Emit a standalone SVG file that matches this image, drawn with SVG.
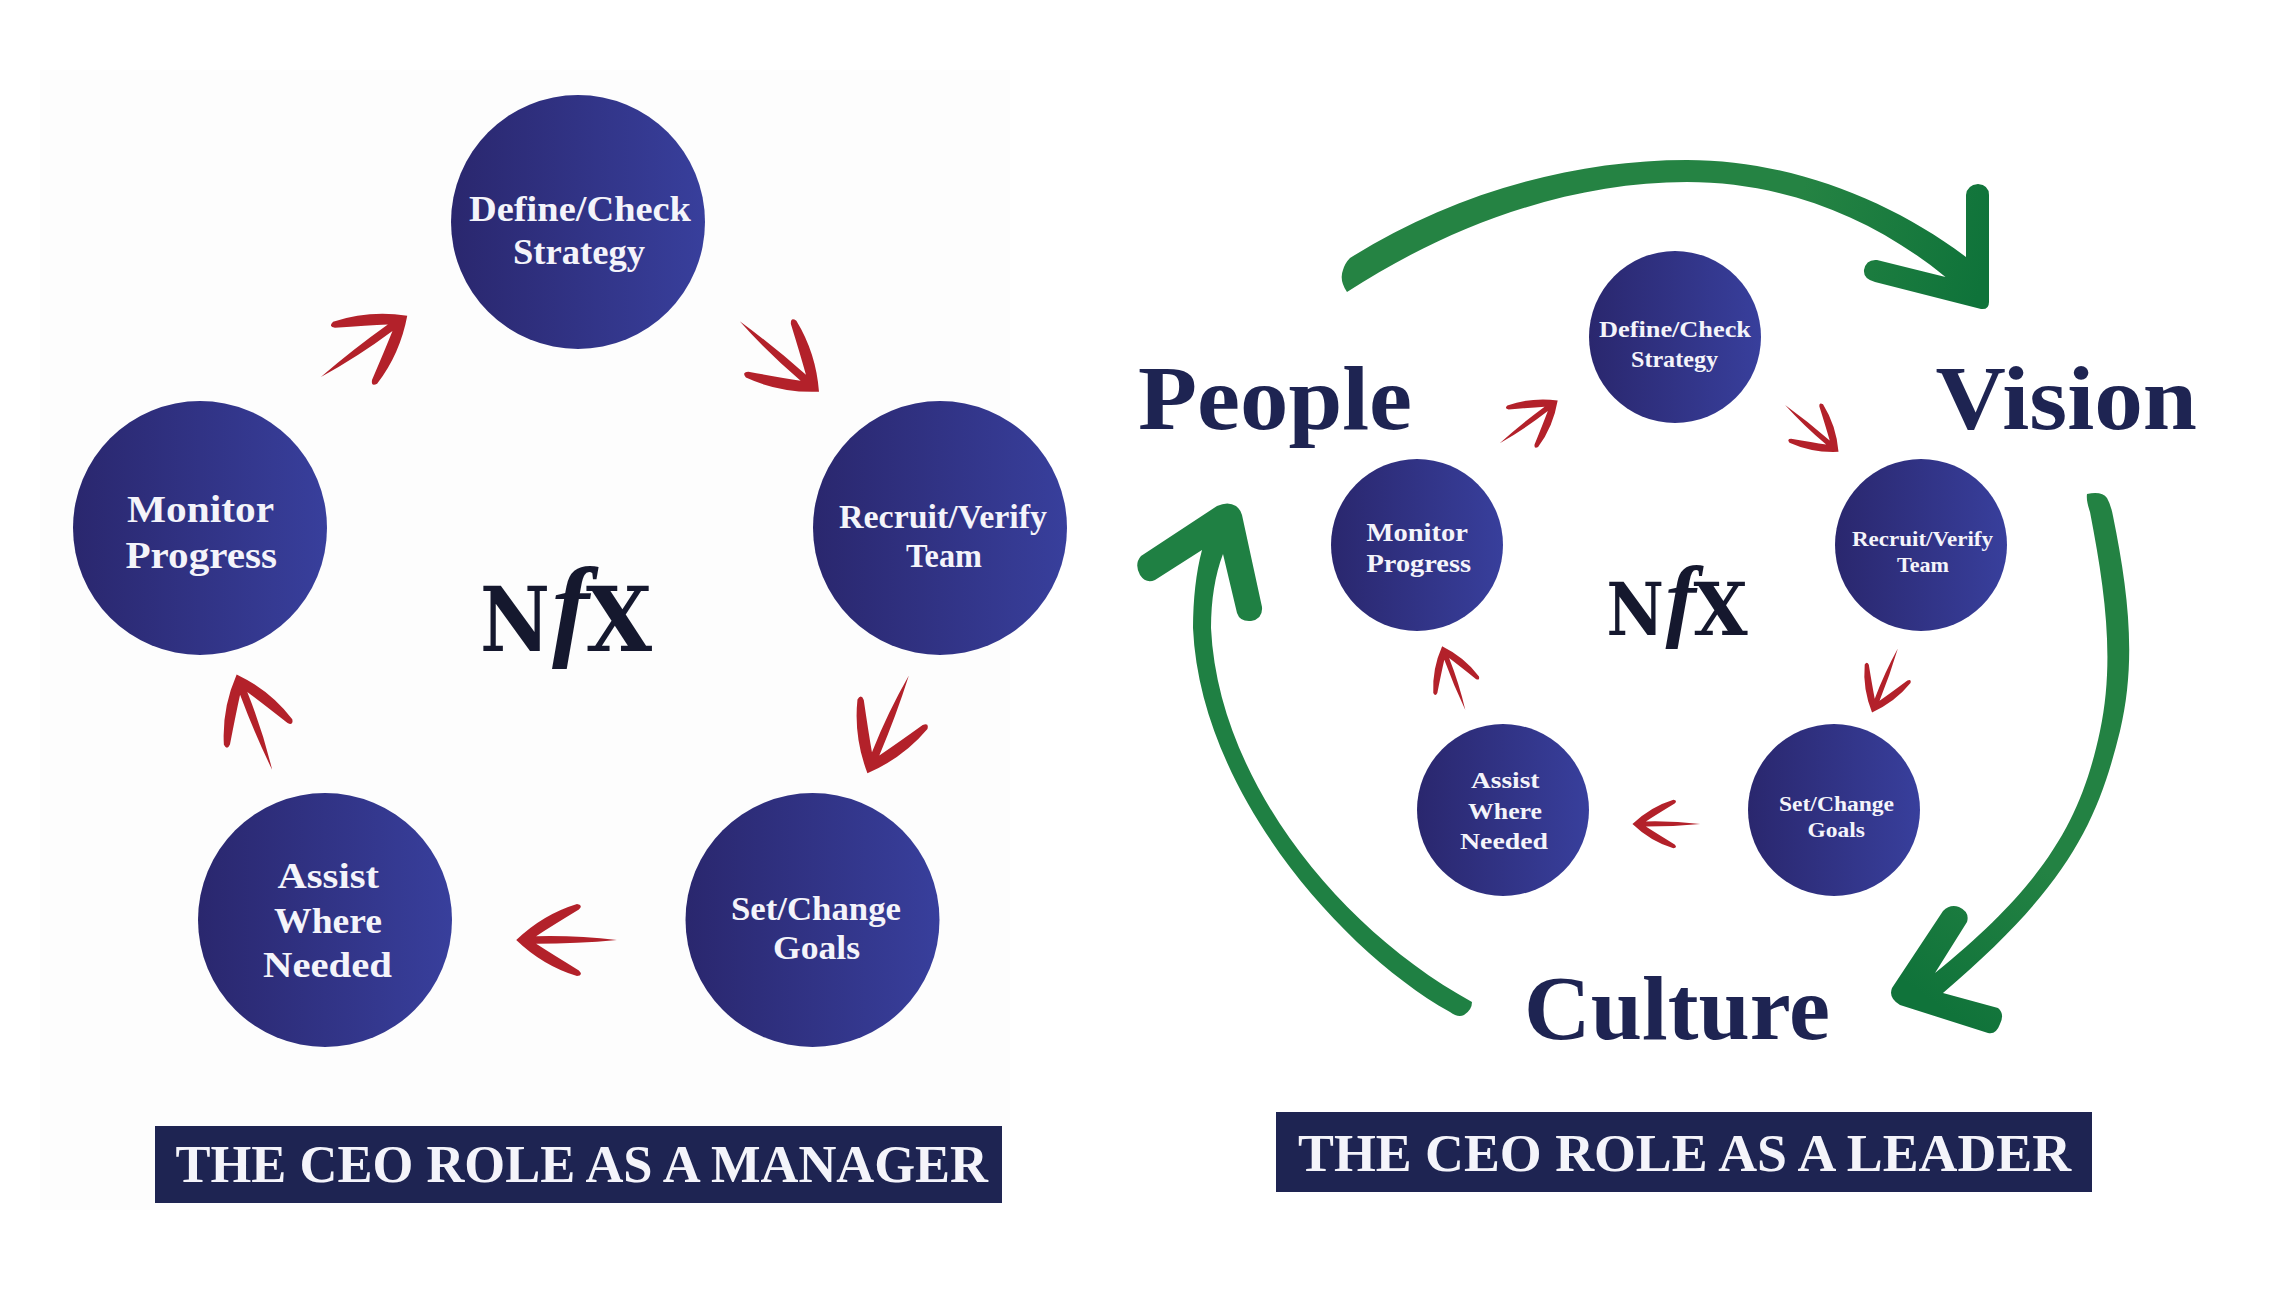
<svg xmlns="http://www.w3.org/2000/svg" xmlns:xlink="http://www.w3.org/1999/xlink" width="2288" height="1296" viewBox="0 0 2288 1296">
<style>
.t{font-family:"Liberation Serif","Times New Roman",serif;font-weight:700;fill:#f4f4fa}
.big{font-family:"Liberation Serif","Times New Roman",serif;font-weight:700;fill:#1e2452;font-size:90px}
.ban{fill:#1e2452}
.logo{font-family:"DejaVu Serif",serif;font-weight:700;fill:#15182e;font-size:89px}
.logof{font-family:"Liberation Serif",serif;font-style:italic;font-weight:700;fill:#15182e;font-size:112px}
.red{fill:#b3212a}
</style>
<defs>
<linearGradient id="g" x1="0" y1="0" x2="1" y2="0"><stop offset="0" stop-color="#2a276e"/><stop offset="1" stop-color="#383f9c"/></linearGradient>
<linearGradient id="g1" gradientUnits="userSpaceOnUse" x1="1800" y1="200" x2="1990" y2="250"><stop offset="0" stop-color="#258343"/><stop offset="1" stop-color="#0f733a"/></linearGradient>
<linearGradient id="g2" gradientUnits="userSpaceOnUse" x1="2030" y1="860" x2="1930" y2="1000"><stop offset="0" stop-color="#238243"/><stop offset="1" stop-color="#10733a"/></linearGradient>
<path id="ra" d="M4,0 Q-24,-27 -60,-38 Q-67,-37 -62,-32 Q-34,-15 -17,-4 Q-60,-4 -102,0 Q-60,5 -17,4 Q-34,15 -62,32 Q-67,37 -60,38 Q-24,27 4,0 Z"/>
<g id="nfx">
<text class="logo" x="480" y="651" textLength="70" lengthAdjust="spacingAndGlyphs">N</text>
<text class="logof" x="552" y="645">f</text>
<text class="logo" x="586" y="651" textLength="66" lengthAdjust="spacingAndGlyphs">X</text>
</g>
</defs>
<rect width="2288" height="1296" fill="#ffffff"/>
<rect x="40" y="70" width="970" height="1140" fill="#fdfdfd"/>

<g id="connectors">
<g class="red">
<use href="#ra" transform="translate(404,318) rotate(-35.4)"/>
<use href="#ra" transform="translate(816,389) rotate(41.6)"/>
<use href="#ra" transform="translate(869,769.5) rotate(113)"/>
<use href="#ra" transform="translate(520,940) rotate(180) scale(.95)"/>
<use href="#ra" transform="translate(238,678) rotate(-110.4) scale(.96)"/>
<use href="#ra" transform="translate(1555.5,402) rotate(-36.5) scale(.68)"/>
<use href="#ra" transform="translate(1836.5,450) rotate(41.2) scale(.67)"/>
<use href="#ra" transform="translate(1873,710) rotate(112) scale(.65)"/>
<use href="#ra" transform="translate(1635,824) rotate(180) scale(.64)"/>
<use href="#ra" transform="translate(1443,648.7) rotate(-110) scale(.64)"/>
</g>
<path id="arrow-people-vision" fill="url(#g1)" d="M1347,292 Q1339,280 1343,270 Q1345,263 1350,258 C1450,195 1570,160 1687,160 C1790,160 1890,200 1966,257 L1966,195 Q1967,185 1978,184 Q1989,185 1989,195 L1989,302 Q1989,310 1981,309 L1875,282 Q1863,279 1864,270 Q1866,259 1877,260 L1945.5,277 C1870,215 1780,182 1687,182 C1570,182 1450,225 1347,292 Z"/>
<path id="arrow-vision-culture" fill="url(#g2)" d="M2087,494 Q2102,491 2107,498 Q2111,505 2113,516 C2128,590 2137,660 2120,731 C2098,820 2070,885 1943,993 L1998,1008 Q2005,1014 2000,1024 Q1996,1035 1988,1033 L1900,1005 Q1888,998 1892,988 L1943,911 Q1950,904 1959,907 Q1970,912 1967,922 L1935,973 C2050,880 2082,815 2100,731 C2115,660 2105,590 2090,512 Q2086,500 2087,494 Z"/>
<path id="arrow-culture-people" fill="#1f8043" d="M1472,1002 Q1472,1010 1464,1015 Q1458,1018 1450,1012 C1340,950 1200,790 1193,628 C1193,600 1196,572 1202,550 L1155,580 Q1146,584 1140,575 Q1134,564 1141,556 L1217,506 Q1228,501 1236,506 Q1241,510 1242,515 L1262,607 Q1263,619 1251,621 Q1240,622 1237,613 L1223,554 C1215,575 1211,600 1211,628 C1218,780 1340,930 1472,1002 Z"/>
</g>

<g id="node-define-l"><circle cx="578" cy="222" r="127" fill="url(#g)"/>
<text class="t" font-size="35" x="469" y="221" textLength="222" lengthAdjust="spacingAndGlyphs">Define/Check</text>
<text class="t" font-size="35" x="513" y="264" textLength="132" lengthAdjust="spacingAndGlyphs">Strategy</text></g>
<g id="node-recruit-l"><circle cx="940" cy="528" r="127" fill="url(#g)"/>
<text class="t" font-size="33" x="839" y="528" textLength="208" lengthAdjust="spacingAndGlyphs">Recruit/Verify</text>
<text class="t" font-size="33" x="906" y="567" textLength="76" lengthAdjust="spacingAndGlyphs">Team</text></g>
<g id="node-set-l"><circle cx="812.5" cy="920" r="127" fill="url(#g)"/>
<text class="t" font-size="33" x="731" y="920" textLength="170" lengthAdjust="spacingAndGlyphs">Set/Change</text>
<text class="t" font-size="33" x="773" y="958.5" textLength="87" lengthAdjust="spacingAndGlyphs">Goals</text></g>
<g id="node-assist-l"><circle cx="325" cy="920" r="127" fill="url(#g)"/>
<text class="t" font-size="35" x="277.5" y="888" textLength="101.5" lengthAdjust="spacingAndGlyphs">Assist</text>
<text class="t" font-size="35" x="274" y="933" textLength="108" lengthAdjust="spacingAndGlyphs">Where</text>
<text class="t" font-size="35" x="263" y="976.5" textLength="129" lengthAdjust="spacingAndGlyphs">Needed</text></g>
<g id="node-monitor-l"><circle cx="200" cy="528" r="127" fill="url(#g)"/>
<text class="t" font-size="38" x="127" y="521.5" textLength="147" lengthAdjust="spacingAndGlyphs">Monitor</text>
<text class="t" font-size="38" x="125.5" y="568" textLength="151.5" lengthAdjust="spacingAndGlyphs">Progress</text></g>
<g id="logo-l"><use href="#nfx"/></g>
<g id="banner-l"><rect class="ban" x="155" y="1126" width="847" height="77"/>
<text class="t" font-size="52" x="175.5" y="1182" textLength="812.5" lengthAdjust="spacingAndGlyphs">THE CEO ROLE AS A MANAGER</text></g>

<g id="node-define-r"><circle cx="1675" cy="337" r="86" fill="url(#g)"/>
<text class="t" font-size="24" x="1599" y="337" textLength="152" lengthAdjust="spacingAndGlyphs">Define/Check</text>
<text class="t" font-size="24" x="1631" y="366.5" textLength="87" lengthAdjust="spacingAndGlyphs">Strategy</text></g>
<g id="node-recruit-r"><circle cx="1921" cy="545" r="86" fill="url(#g)"/>
<text class="t" font-size="22" x="1852" y="546" textLength="141" lengthAdjust="spacingAndGlyphs">Recruit/Verify</text>
<text class="t" font-size="22" x="1897" y="572" textLength="52" lengthAdjust="spacingAndGlyphs">Team</text></g>
<g id="node-set-r"><circle cx="1834" cy="810" r="86" fill="url(#g)"/>
<text class="t" font-size="22" x="1779" y="811" textLength="115" lengthAdjust="spacingAndGlyphs">Set/Change</text>
<text class="t" font-size="22" x="1807.5" y="837" textLength="57.5" lengthAdjust="spacingAndGlyphs">Goals</text></g>
<g id="node-assist-r"><circle cx="1503" cy="810" r="86" fill="url(#g)"/>
<text class="t" font-size="24" x="1471" y="788" textLength="68.5" lengthAdjust="spacingAndGlyphs">Assist</text>
<text class="t" font-size="24" x="1468" y="819" textLength="74" lengthAdjust="spacingAndGlyphs">Where</text>
<text class="t" font-size="24" x="1460" y="849" textLength="88" lengthAdjust="spacingAndGlyphs">Needed</text></g>
<g id="node-monitor-r"><circle cx="1417" cy="545" r="86" fill="url(#g)"/>
<text class="t" font-size="25" x="1366.5" y="541" textLength="101.5" lengthAdjust="spacingAndGlyphs">Monitor</text>
<text class="t" font-size="25" x="1366.5" y="572" textLength="104.5" lengthAdjust="spacingAndGlyphs">Progress</text></g>
<g id="logo-r"><use href="#nfx" transform="translate(1606.5,635) scale(.82) translate(-480,-651)"/></g>

<g id="node-people"><text class="big" x="1138" y="429" textLength="274" lengthAdjust="spacingAndGlyphs">People</text></g>
<g id="node-vision"><text class="big" x="1935.5" y="429" textLength="261.5" lengthAdjust="spacingAndGlyphs">Vision</text></g>
<g id="node-culture"><text class="big" x="1524" y="1039" textLength="306" lengthAdjust="spacingAndGlyphs">Culture</text></g>
<g id="banner-r"><rect class="ban" x="1276" y="1112" width="816" height="80"/>
<text class="t" font-size="52" x="1298" y="1171" textLength="773" lengthAdjust="spacingAndGlyphs">THE CEO ROLE AS A LEADER</text></g>
</svg>
